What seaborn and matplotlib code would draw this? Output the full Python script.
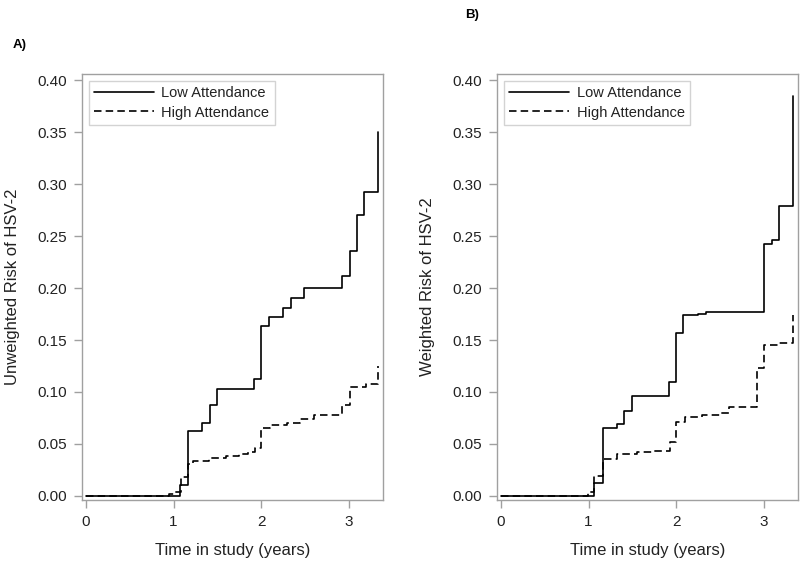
import numpy as np
import pandas as pd
import matplotlib
matplotlib.use("Agg")
import matplotlib.pyplot as plt
import seaborn as sns

# Step values (time in years, cumulative risk)
time_a_low = [0, 1.075, 1.17, 1.32, 1.42, 1.50, 1.92, 2.0, 2.09, 2.25, 2.34, 2.49, 2.92, 3.01, 3.09, 3.17, 3.33]
risk_a_low = [0, 0.010, 0.062, 0.070, 0.087, 0.103, 0.112, 0.163, 0.172, 0.181, 0.190, 0.200, 0.212, 0.236, 0.270, 0.292, 0.350]
time_a_high = [0, 0.95, 1.0, 1.08, 1.17, 1.22, 1.40, 1.60, 1.75, 1.85, 1.93, 2.0, 2.1, 2.3, 2.45, 2.6, 2.92, 3.01, 3.2, 3.33]
risk_a_high = [0, 0.002, 0.004, 0.018, 0.031, 0.034, 0.036, 0.038, 0.040, 0.042, 0.046, 0.065, 0.068, 0.070, 0.074, 0.078, 0.087, 0.105, 0.108, 0.125]

time_b_low = [0, 1.065, 1.17, 1.32, 1.41, 1.50, 1.92, 2.0, 2.08, 2.25, 2.34, 3.0, 3.09, 3.17, 3.34]
risk_b_low = [0, 0.012, 0.065, 0.069, 0.082, 0.096, 0.110, 0.157, 0.174, 0.175, 0.177, 0.242, 0.246, 0.279, 0.385]
time_b_high = [0, 0.99, 1.065, 1.17, 1.32, 1.55, 1.75, 1.93, 2.0, 2.1, 2.3, 2.5, 2.6, 2.92, 3.0, 3.17, 3.34]
risk_b_high = [0, 0.004, 0.019, 0.035, 0.040, 0.042, 0.0435, 0.052, 0.071, 0.076, 0.078, 0.080, 0.086, 0.123, 0.145, 0.147, 0.174]

groups = ["Low Attendance", "High Attendance"]
y_labels = ["Unweighted Risk of HSV-2", "Weighted Risk of HSV-2"]
panel_tags = ["A)", "B)"]
x_ticks = [0, 1, 2, 3]
y_ticks = [0.00, 0.05, 0.10, 0.15, 0.20, 0.25, 0.30, 0.35, 0.40]


def make_frame(t_low, r_low, t_high, r_high):
    low = pd.DataFrame({"time": t_low, "risk": r_low, "group": groups[0]})
    high = pd.DataFrame({"time": t_high, "risk": r_high, "group": groups[1]})
    return pd.concat([low, high], ignore_index=True)


frames = [make_frame(time_a_low, risk_a_low, time_a_high, risk_a_high),
          make_frame(time_b_low, risk_b_low, time_b_high, risk_b_high)]

sns.set_theme(style="ticks")
plt.rcParams["font.family"] = ["Liberation Sans", "DejaVu Sans"]
frame_gray = "#a0a0a0"
text_col = "#222222"

fig = plt.figure(figsize=(8, 5.62), dpi=100)
axes = [fig.add_axes([0.1025, 0.1103, 0.376, 0.758]),
        fig.add_axes([0.6213, 0.1103, 0.376, 0.758])]

styles = {groups[0]: "-", groups[1]: (0, (4.5, 2.5))}

for ax, df, ylab in zip(axes, frames, y_labels):
    for g in groups:
        sub = df[df["group"] == g]
        sns.lineplot(data=sub, x="time", y="risk", ax=ax, color="black",
                     linewidth=1.2, linestyle=styles[g], drawstyle="steps-post",
                     estimator=None, label=g)
    ax.set_xlim(-0.045, 3.39)
    ax.set_ylim(-0.004, 0.406)
    ax.set_xticks(x_ticks)
    ax.set_yticks(y_ticks)
    ax.set_yticklabels([f"{v:.2f}" for v in y_ticks])
    for sp in ax.spines.values():
        sp.set_color(frame_gray)
        sp.set_linewidth(1.0)
    ax.tick_params(axis="both", colors=frame_gray, labelcolor=text_col,
                   labelsize=11, length=5.5, width=1.0, pad=5)
    ax.set_xlabel("Time in study (years)", fontsize=12, color=text_col)
    ax.set_ylabel(ylab, fontsize=12, color=text_col)
    ax.xaxis.set_label_coords(0.5, -0.1)
    ax.yaxis.set_label_coords(-0.205, 0.5)
    leg = ax.legend(loc="upper left", fontsize=10.5, frameon=True, fancybox=False,
                    handlelength=4.1, handletextpad=0.5, labelspacing=0.35,
                    borderpad=0.4, borderaxespad=0.45)
    leg.get_frame().set_edgecolor("#c8c8c8")
    leg.get_frame().set_linewidth(1.0)
    for t in leg.get_texts():
        t.set_color(text_col)

tag_font = ["Liberation Sans Narrow", "Liberation Sans", "DejaVu Sans"]
fig.text(13 / 800, 1 - 45 / 562, panel_tags[0], fontsize=9.5, fontweight="bold",
         family=tag_font, ha="left", va="center", color="black")
fig.text(465 / 800, 1 - 15 / 562, panel_tags[1], fontsize=9.5, fontweight="bold",
         family=tag_font, ha="left", va="center", color="black")

fig.savefig("out.png", dpi=100, facecolor="white")
